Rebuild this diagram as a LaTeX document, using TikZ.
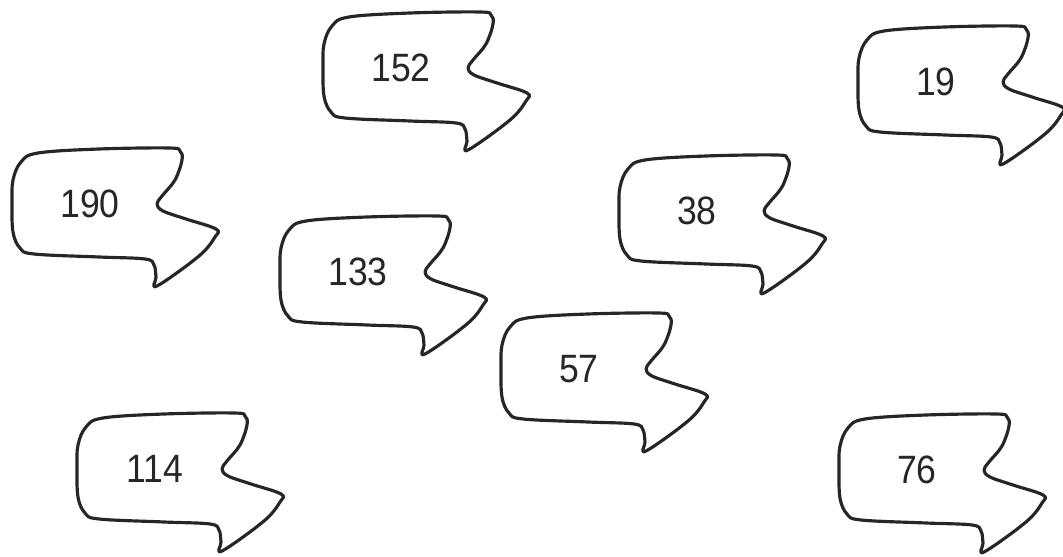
\documentclass[tikz,border=0pt]{standalone}
\usepackage{fontspec}
\setmainfont{Liberation Sans}
\usepackage{tikz}
\tikzset{
  outline/.style={draw=black!85, line width=1.8pt, line join=round},
  num/.style={font=\fontsize{22.5}{24}\selectfont, xscale=0.9, inner sep=0pt, text=black!85},
  % sprechblase mit pfeilspitze nach rechts
  callout/.pic={
    \draw[outline] plot[smooth cycle, tension=0.6] coordinates {
      (-77,-24) (-69,-42) (-52,-51) (9,-55) (79,-56) (90,-53) (92,-44)
      (85,-24) (72,-8) (67,0) (73,7) (96,15) (126,25) (125,33) (109,52)
      (67,82) (66,73) (64,61) (55,55) (9,53) (-56,50) (-70,44) (-77,28) (-78,-1)};
  }
}
\begin{document}
\begin{tikzpicture}[x=0.02cm, y=-0.02cm]
  \useasboundingbox (0,0) rectangle (1063,557);
  % obere reihe
  \pic at (401,68) {callout};
  \node[num] (n152) at (401,68) {152};
  \pic at (936,82) {callout};
  \node[num] (n19) at (936,82) {19};
  % mitte
  \pic at (90,204) {callout};
  \node[num] (n190) at (90,204) {190};
  \pic at (358,272) {callout};
  \node[num] (n133) at (358,272) {133};
  \pic at (697,211) {callout};
  \node[num] (n38) at (697,211) {38};
  \pic at (579,369) {callout};
  \node[num] (n57) at (579,369) {57};
  % untere reihe
  \pic at (155,469) {callout};
  \node[num] (n114) at (155,469) {114};
  \pic at (917,470) {callout};
  \node[num] (n76) at (917,470) {76};
\end{tikzpicture}
\end{document}
